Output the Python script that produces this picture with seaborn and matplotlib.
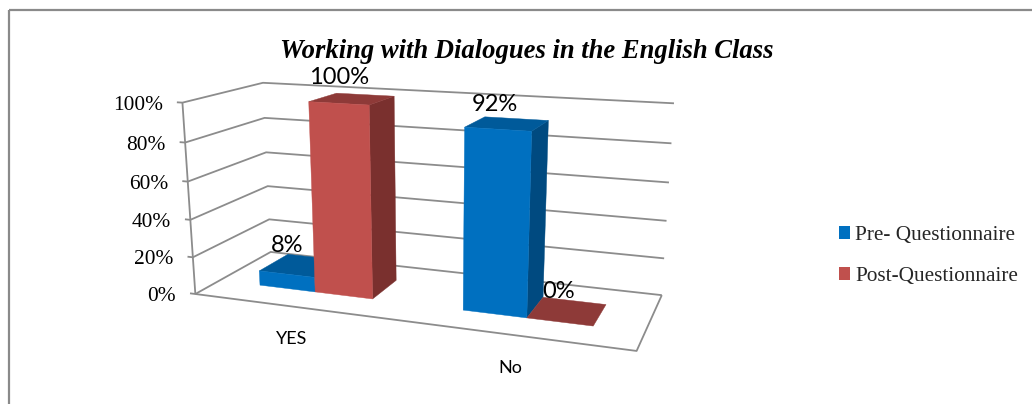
import numpy as np
import pandas as pd
import seaborn as sns
import matplotlib
matplotlib.use("Agg")
import matplotlib.pyplot as plt
from matplotlib.patches import Patch, Polygon, Rectangle

# Survey results, as shares of respondents
categories = ["YES", "No"]
series_names = ["Pre- Questionnaire", "Post-Questionnaire"]
pre_values = [8, 92]
post_values = [100, 0]
y_ticks = [0, 20, 40, 60, 80, 100]

sns.set_theme(style="white")
front_colors = sns.color_palette(["#0070C0", "#C0504D"])
top_colors = ["#005A9A", "#8E3A38"]
side_colors = ["#004A80", "#7A302E"]
GRID = "#8C8C8C"

# Chart box corners: (x along categories, depth, value) -> pixel position
box_model = np.array([
    [0, 0, 0], [0, 0, 1], [0, 1, 0], [0, 1, 1],
    [1, 1, 0], [1, 1, 1], [1, 0, 0],
], float)
box_pixels = np.array([
    [195, 293], [182.7, 103], [271, 253], [262.7, 82.3],
    [661.7, 294.3], [674, 103.5], [636.7, 351.7],
], float)


def fit_camera(model, pixels):
    rows = []
    rhs = []
    for (x, d, z), (u, v) in zip(model, pixels):
        rows.append([x, d, z, 1, 0, 0, 0, 0, -u * x, -u * d, -u * z])
        rows.append([0, 0, 0, 0, x, d, z, 1, -v * x, -v * d, -v * z])
        rhs += [u, v]
    sol = np.linalg.lstsq(np.array(rows), np.array(rhs), rcond=None)[0]
    return np.append(sol, 1.0).reshape(3, 4)


camera = fit_camera(box_model, box_pixels)


def project(x, d, z):
    h = camera @ np.array([x, d, z, 1.0])
    return h[0] / h[2], h[1] / h[2]


fig = plt.figure(figsize=(10.32, 4.04), dpi=100, facecolor="white")
ax = fig.add_axes([0, 0, 1, 1])
ax.set_xlim(0, 1032)
ax.set_ylim(404, 0)
ax.axis("off")

# Outer chart frame, open past the right and bottom edges
ax.add_patch(Rectangle((9, 10), 1040, 420, fill=False, ec="#8A8A8A", lw=1.6))


def line3d(points):
    xy = np.array([project(*p) for p in points])
    ax.plot(xy[:, 0], xy[:, 1], color=GRID, lw=1.3, solid_capstyle="butt", zorder=2)


# Walls and floor
for tick in y_ticks:
    z = tick / 100
    line3d([(-0.014, 0, z), (0, 0, z), (0, 1, z), (1, 1, z)])
    u, v = project(-0.014, 0, z)
    ax.text(u - 14, v + 3, f"{tick}%", ha="right", va="center", fontsize=15.4,
            family="Liberation Serif", color="black")
line3d([(0, 0, 0), (0, 0, 1)])
line3d([(0, 0, 0), (1, 0, 0), (1, 1, 0)])

# Bars: two bars per category, separated by a gap of 1.5 bar widths
category_width = 1 / len(categories)
bar_width = category_width / 3.5
depth_near, depth_far = 0.3, 0.7


def face(points, color):
    xy = [project(*p) for p in points]
    ax.add_patch(Polygon(xy, closed=True, fc=color, ec=color, lw=0.3, zorder=3))


label_offsets = {(0, 0): (0, -29), (0, 1): (0, -26), (1, 0): (-3, -25), (1, 1): (-1, -30)}
for c, cat in enumerate(categories):
    for s, values in enumerate([pre_values, post_values]):
        z = values[c] / 100
        x0 = c * category_width + 0.75 * bar_width + s * bar_width
        x1 = x0 + bar_width
        if z > 0:
            face([(x1, depth_near, 0), (x1, depth_far, 0), (x1, depth_far, z), (x1, depth_near, z)], side_colors[s])
        face([(x0, depth_near, z), (x1, depth_near, z), (x1, depth_far, z), (x0, depth_far, z)], top_colors[s])
        if z > 0:
            face([(x0, depth_near, 0), (x1, depth_near, 0), (x1, depth_near, z), (x0, depth_near, z)], front_colors[s])

for c, cat in enumerate(categories):
    for s, values in enumerate([pre_values, post_values]):
        z = values[c] / 100
        x0 = c * category_width + 0.75 * bar_width + s * bar_width
        u, v = project(x0 + bar_width / 2, depth_near, z)
        dx, dy = label_offsets[(c, s)]
        ax.text(u + dx, v + dy, f"{values[c]}%", ha="center", va="center", fontsize=17,
                family="Lato", color="black", zorder=4)
    u, v = project((c + 0.5) * category_width, 0, 0)
    ax.text(u - 2 - c, v + 32 + c, cat, ha="center", va="center", fontsize=13,
            family="Lato", color="black")

ax.text(527, 51, "Working with Dialogues in the English Class", ha="center", va="center",
        fontsize=19.2, family="Liberation Serif", weight="bold", style="italic", color="black")

handles = [Patch(fc=front_colors[i], ec="none", label=series_names[i]) for i in range(2)]
ax.legend(handles=handles, loc="center left", bbox_to_anchor=(839 / 1032, 1 - 256 / 404),
          frameon=False, handlelength=0.5, handleheight=0.6, handletextpad=0.25,
          labelspacing=1.03, borderpad=0, borderaxespad=0,
          prop={"family": "Liberation Serif", "size": 15.3})

fig.savefig("out.png", dpi=100, facecolor="white")
